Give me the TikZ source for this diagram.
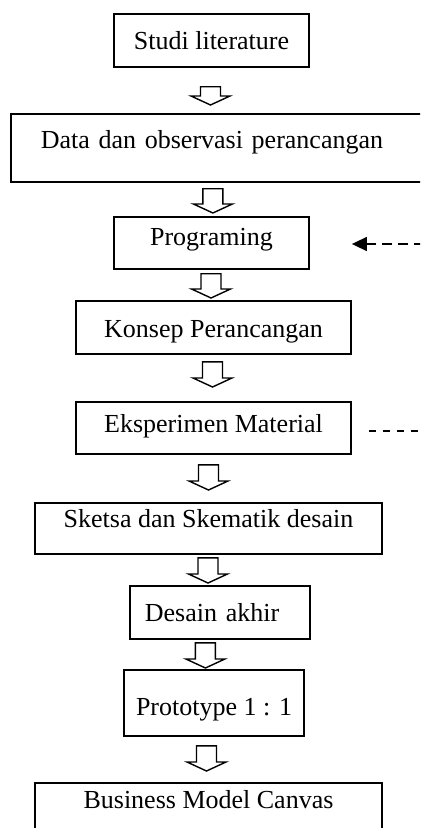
\documentclass[tikz,border=0pt]{standalone}
\usepackage{fontspec}
\setmainfont{Liberation Serif}
\usetikzlibrary{calc,arrows.meta}
\tikzset{
  stage/.style={draw, line width=0.9pt, inner sep=0pt, font=\fontsize{13}{15}\selectfont, anchor=north},
  hollow/.style={line width=0.7pt, to path={let \p1=(\tikztostart), \p2=(\tikztotarget) in
    (\x1-5pt,\y1) -- (\x1+5pt,\y1) -- (\x1+5pt,\y2+4.5pt) -- (\x1+9.75pt,\y2+4.5pt)
    -- (\x1,\y2) -- (\x1-9.75pt,\y2+4.5pt) -- (\x1-5pt,\y2+4.5pt) -- cycle}},
  loopback/.style={line width=0.8pt, dash pattern=on 5pt off 3pt},
  feedout/.style={line width=0.8pt, dash pattern=on 3.7pt off 3.3pt}
}
\begin{document}
\begin{tikzpicture}[x=0.5pt,y=-0.5pt]
  \useasboundingbox (0,0) rectangle (420,828);
  \clip (0,0) rectangle (420,828);
  % tahapan
  \node[stage, text height=18pt, text depth=8.5pt, minimum width=97.5pt] (studi) at (211.5,13) {Studi literature};
  \node[stage, anchor=north west, text height=17.5pt, text depth=16.5pt, inner xsep=15pt, text width=200pt, align=left] (data) at (10,113) {Data dan observasi perancangan};
  \node[stage, text height=14.5pt, text depth=11.5pt, minimum width=97.5pt] (prog) at (211.5,216) {Programing};
  \node[stage, text height=18.5pt, text depth=8pt, minimum width=137.5pt] (konsep) at (213.5,300) {Konsep Perancangan};
  \node[stage, text height=15.5pt, text depth=10.5pt, minimum width=137.5pt] (eksp) at (213.5,401) {Eksperimen Material};
  \node[stage, text height=12.5pt, text depth=13pt, minimum width=173.5pt] (sketsa) at (208.5,502) {Sketsa dan Skematik desain};
  \node[stage, anchor=north west, text height=18pt, text depth=8.5pt, inner xsep=7.5pt, text width=75pt, align=left] (akhir) at (129,585) {Desain akhir};
  \node[stage, text height=23pt, text depth=10pt, minimum width=90pt] (proto) at (214,669) {Prototype 1 : 1};
  \node[stage, text height=13pt, text depth=26pt, minimum width=173.5pt] (bmc) at (208.5,782) {Business Model Canvas};
  % panah blok
  \draw[hollow] ([xshift=-0.5pt,yshift=-9.5pt]studi.south) to ([yshift=4pt]data.north);
  \draw[hollow] ([xshift=-14pt,yshift=-3pt]data.south) to ([yshift=1.5pt]prog.north);
  \draw[hollow] ([xshift=-0.25pt,yshift=-2pt]prog.south) to ([yshift=1pt]konsep.north);
  \draw[hollow] ([xshift=-0.5pt,yshift=-3.5pt]konsep.south) to ([yshift=7pt]eksp.north);
  \draw[hollow] ([xshift=-2.5pt,yshift=-5pt]eksp.south) to ([yshift=6pt]sketsa.north);
  \draw[hollow] ([xshift=-0.25pt,yshift=-1.5pt]sketsa.south) to ([yshift=1pt]akhir.north);
  \draw[hollow] ([xshift=-7.25pt,yshift=-1.5pt]akhir.south) to ([yshift=0.5pt]proto.north);
  \draw[hollow] ([xshift=-3.75pt,yshift=-4.5pt]proto.south) to ([yshift=5.5pt]bmc.north);
  % garis putus-putus
  \coordinate (fromright) at (440,244);
  \coordinate (toright) at (440,431);
  \draw[loopback, -{Triangle[length=7.5pt,width=7pt]}] (fromright) -- ($(fromright -| prog.east)+(21pt,0)$);
  \draw[feedout] ($(eksp.east |- toright)+(8.5pt,0)$) -- (toright);
\end{tikzpicture}
\end{document}
